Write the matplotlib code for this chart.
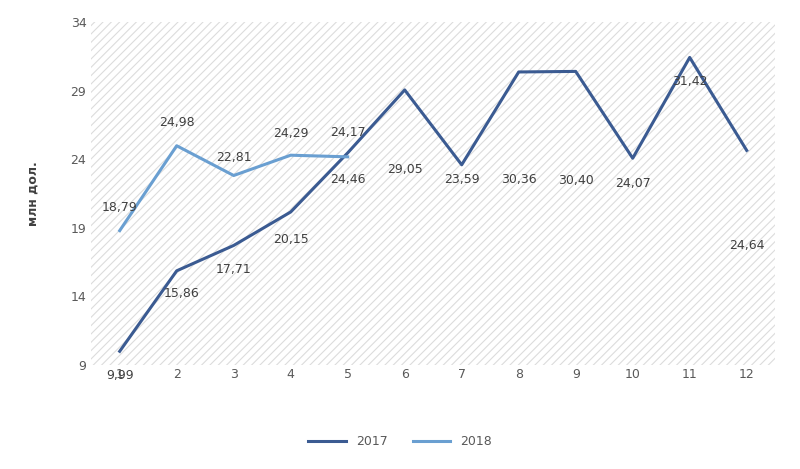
import matplotlib.pyplot as plt
from matplotlib.patches import Rectangle

months = list(range(1, 13))
y2017 = [9.99, 15.86, 17.71, 20.15, 24.46, 29.05, 23.59, 30.36, 30.40, 24.07, 31.42, 24.64]
months_2018 = [1, 2, 3, 4, 5]
y2018 = [18.79, 24.98, 22.81, 24.29, 24.17]
yticks = [9, 14, 19, 24, 29, 34]

fig = plt.figure(figsize=(8, 4.69), dpi=100)
ax = fig.add_axes([0.114, 0.222, 0.855, 0.731])
ax.set_xlim(0.5, 12.5)
ax.set_ylim(9, 34)

plt.rcParams["hatch.linewidth"] = 0.8
# hatched plot background
ax.add_patch(Rectangle((0, 0), 1, 1, transform=ax.transAxes, facecolor="white",
                       edgecolor="#dcdcdc", hatch="////", linewidth=0, zorder=0))

ax.plot(months, y2017, color="#3b5b92", lw=2.2, label="2017", zorder=3)
ax.plot(months_2018, y2018, color="#6a9fd1", lw=2.2, label="2018", zorder=3)

# label offsets in pixels (dx, dy), as placed in the reference
off17 = [(0, -24), (5, -23), (0, -24), (0, -28), (0, -27), (0, -80),
         (0, -15), (0, -108), (0, -109), (0, -25), (0, -24), (0, -95)]
off18 = [(0, 23), (0, 23), (0, 18), (0, 22), (0, 24)]
for x, y, (dx, dy) in zip(months, y2017, off17):
    ax.annotate(f"{y:.2f}".replace(".", ","), (x, y), xytext=(dx, dy),
                textcoords="offset pixels", ha="center", va="center",
                fontsize=9, color="#404040", zorder=4)
for x, y, (dx, dy) in zip(months_2018, y2018, off18):
    ax.annotate(f"{y:.2f}".replace(".", ","), (x, y), xytext=(dx, dy),
                textcoords="offset pixels", ha="center", va="center",
                fontsize=9, color="#404040", zorder=4)

ax.set_xticks(months)
ax.set_yticks(yticks)
ax.tick_params(length=0, labelsize=9, colors="#595959")
ax.tick_params(axis="x", pad=2)
for s in ax.spines.values():
    s.set_visible(False)
ax.set_ylabel("млн дол.", fontsize=9, fontweight="bold", color="#404040", labelpad=22)

fig.legend(loc="lower center", bbox_to_anchor=(0.5, 0.02), ncol=2, frameon=False,
           fontsize=9, labelcolor="#595959", handlelength=3)
fig.savefig("out.png")
